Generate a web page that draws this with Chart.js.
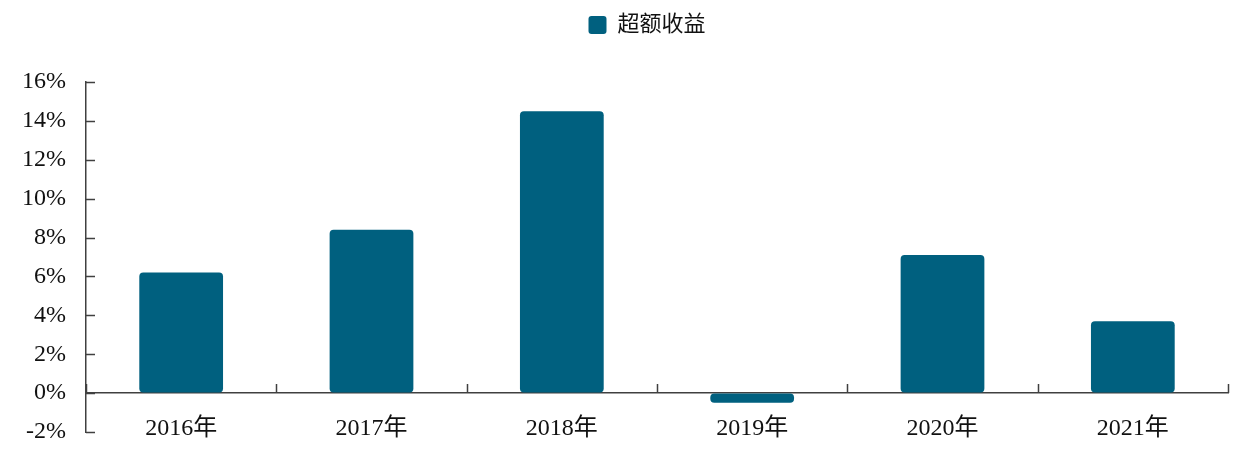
<!DOCTYPE html>
<html>
<head>
<meta charset="utf-8">
<script src="https://cdn.jsdelivr.net/npm/chart.js@4/dist/chart.umd.min.js"></script>
<style>
  html, body { margin: 0; padding: 0; background: #fff; }
  #wrap { width: 1242px; height: 453px; }
</style>
</head>
<body>
<div id="wrap"><canvas id="myChart"></canvas></div>
<script>
var categories = ['2016年', '2017年', '2018年', '2019年', '2020年', '2021年'];
var excessReturn = [6.2, 8.4, 14.5, -0.5, 7.1, 3.7];
var seriesName = '超额收益';
var yMin = -2, yMax = 16, yStep = 2;

var barColor = '#00607f';
var axisColor = '#404040';
var textColor = '#111111';
var serif = "'Liberation Serif', 'Noto Sans CJK SC', serif";

// inward tick marks, like the original
var innerTicks = {
    id: 'innerTicks',
    afterLayout: function(chart) {
        // nudge the legend up and left to where the original has it
        var lg = chart.legend;
        lg.left -= 10; lg.right -= 10;
        lg.top -= 36; lg.bottom -= 36;
    },
    afterDraw: function(chart) {
        var ctx = chart.ctx;
        var x = chart.scales.x, y = chart.scales.y;
        var zeroY = y.getPixelForValue(0);
        ctx.save();
        ctx.strokeStyle = axisColor;
        ctx.lineWidth = 1.5;
        ctx.beginPath();
        y.ticks.forEach(function(t) {
            var py = Math.round(y.getPixelForValue(t.value)) + 0.5;
            ctx.moveTo(y.right, py);
            ctx.lineTo(y.right + 9, py);
        });
        for (var i = 0; i <= categories.length; i++) {
            var px = x.getPixelForValue(i - 0.5);
            px = Math.round(px) + 0.5;
            ctx.moveTo(px, zeroY);
            ctx.lineTo(px, zeroY - 9);
        }
        ctx.stroke();
        ctx.restore();
    }
};

var ctx = document.getElementById('myChart').getContext('2d');
var myChart = new Chart(ctx, {
    type: 'bar',
    data: {
        labels: categories,
        datasets: [{
            label: seriesName,
            data: excessReturn,
            backgroundColor: barColor,
            borderRadius: 4,
            borderSkipped: false,
            barPercentage: 0.44,
            categoryPercentage: 1.0
        }]
    },
    options: {
        responsive: true,
        maintainAspectRatio: false,
        animation: false,
        layout: {
            padding: { left: 0, right: 14, top: 40, bottom: 21 }
        },
        scales: {
            x: {
                position: { y: 0 },
                offset: true,
                grid: { display: true, drawOnChartArea: false, drawTicks: false, offset: true },
                border: { display: true, color: axisColor, width: 1.5 },
                ticks: {
                    padding: 21,
                    color: textColor,
                    font: { family: serif, size: 24 }
                }
            },
            y: {
                min: yMin,
                max: yMax,
                grid: { display: true, drawOnChartArea: false, drawTicks: false },
                border: { display: true, color: axisColor, width: 1.5 },
                afterFit: function(scale) {
                    scale.width = 86;
                    scale.paddingTop = 0;
                    scale.paddingBottom = 0;
                },
                ticks: {
                    stepSize: yStep,
                    padding: 20,
                    color: textColor,
                    font: { family: serif, size: 24 },
                    callback: function(v) { return v + '%'; }
                }
            }
        },
        plugins: {
            legend: {
                position: 'top',
                fullSize: false,
                labels: {
                    boxWidth: 18,
                    boxHeight: 18,
                    useBorderRadius: true,
                    borderRadius: 3,
                    padding: 10,
                    color: textColor,
                    font: { family: serif, size: 22 }
                }
            },
            tooltip: { enabled: false }
        }
    },
    plugins: [innerTicks]
});
</script>
</body>
</html>
